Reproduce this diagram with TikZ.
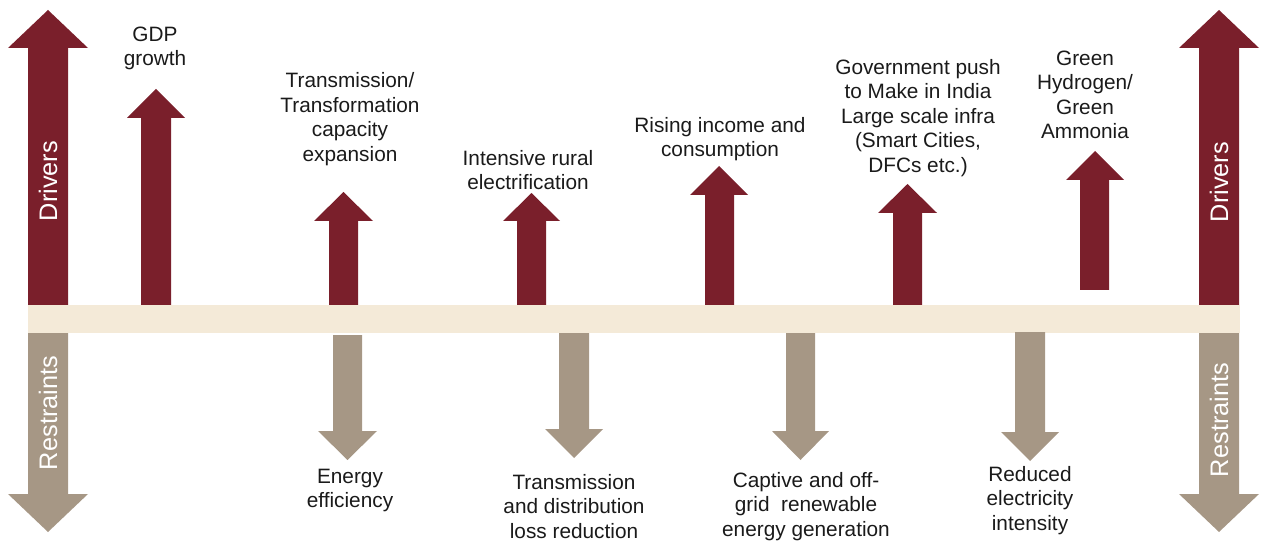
\documentclass[tikz,border=0pt]{standalone}
\usepackage{fontspec}
\setmainfont{Liberation Sans}
\definecolor{drv}{HTML}{7A1F2B}
\definecolor{rst}{HTML}{A69785}
\definecolor{barc}{HTML}{F4EAD8}
\definecolor{txt}{HTML}{1A1A1A}
\begin{document}
\begin{tikzpicture}[x=0.75pt,y=-0.75pt,
  lbl/.style={align=center,inner sep=0pt,text=txt,font=\fontsize{15.6}{18.4}\selectfont},
  side/.style={rotate=90,inner sep=0pt,text=white,font=\fontsize{19}{21}\selectfont},
  drvfill/.style={fill=drv},
  rstfill/.style={fill=rst}]
\useasboundingbox (0,0) rectangle (1262,541);
% central bar
\fill[barc] (28,305) rectangle (1240,333);
% big side arrows
\fill[drvfill] (28,305) -- (28,48) -- (8,48) -- (48,10) -- (88,48) -- (68,48) -- (68,305) -- cycle;
\fill[rstfill] (28,333) -- (28,494) -- (8,494) -- (48,532) -- (88,494) -- (68,494) -- (68,333) -- cycle;
\fill[drvfill] (1199,305) -- (1199,48) -- (1179,48) -- (1219,10) -- (1259,48) -- (1239,48) -- (1239,305) -- cycle;
\fill[rstfill] (1199,333) -- (1199,494) -- (1179,494) -- (1219,532) -- (1259,494) -- (1239,494) -- (1239,333) -- cycle;
\node[side] (dl) at (48,181) {Drivers};
\node[side] (rl) at (48,413) {Restraints};
\node[side] (dr) at (1219,182) {Drivers};
\node[side] (rr) at (1219,420) {Restraints};
% driver arrows
\fill[drvfill] (141,305) -- (141,118) -- (127,118) -- (156,89) -- (185,118) -- (171,118) -- (171,305) -- cycle;
\fill[drvfill] (329,305) -- (329,221) -- (314,221) -- (343.5,192) -- (373,221) -- (358,221) -- (358,305) -- cycle;
\fill[drvfill] (517,305) -- (517,221) -- (503,221) -- (531.5,193) -- (560,221) -- (546,221) -- (546,305) -- cycle;
\fill[drvfill] (705,305) -- (705,195) -- (690,195) -- (719,166) -- (748,195) -- (734,195) -- (734,305) -- cycle;
\fill[drvfill] (893,305) -- (893,213) -- (878,213) -- (907.5,184) -- (937,213) -- (922,213) -- (922,305) -- cycle;
\fill[drvfill] (1080,290) -- (1080,180) -- (1066,180) -- (1095,151) -- (1124,180) -- (1109,180) -- (1109,290) -- cycle;
% restraint arrows
\fill[rstfill] (333,335) -- (333,431) -- (318,431) -- (347.5,460) -- (377,431) -- (362,431) -- (362,335) -- cycle;
\fill[rstfill] (559,333) -- (559,429) -- (545,429) -- (574,458) -- (603,429) -- (589,429) -- (589,333) -- cycle;
\fill[rstfill] (786,333) -- (786,431) -- (772,431) -- (800.5,460) -- (829,431) -- (815,431) -- (815,333) -- cycle;
\fill[rstfill] (1015,332) -- (1015,432) -- (1001,432) -- (1030,461) -- (1059,432) -- (1045,432) -- (1045,332) -- cycle;
% labels
\node[lbl] (t1) at (155,48.5) {GDP\\growth};
\node[lbl] (t2) at (350,119) {Transmission/\\Transformation\\capacity\\expansion};
\node[lbl] (t3) at (528,170) {Intensive rural\\electrification};
\node[lbl] (t4) at (720,139) {Rising income and\\consumption};
\node[lbl] (t5) at (918,118) {Government push\\to Make in India\\Large scale infra\\(Smart Cities,\\DFCs etc.)};
\node[lbl] (t6) at (1085,95) {Green\\Hydrogen/\\Green\\Ammonia};
\node[lbl] (b1) at (350,490.5) {Energy\\efficiency};
\node[lbl] (b2) at (574,506.5) {Transmission\\and distribution\\loss reduction};
\node[lbl] (b3) at (806,506.5) {Captive and off-\\grid\ \ renewable\\energy generation};
\node[lbl] (b4) at (1030,500.5) {Reduced\\electricity\\intensity};
\end{tikzpicture}
\end{document}
